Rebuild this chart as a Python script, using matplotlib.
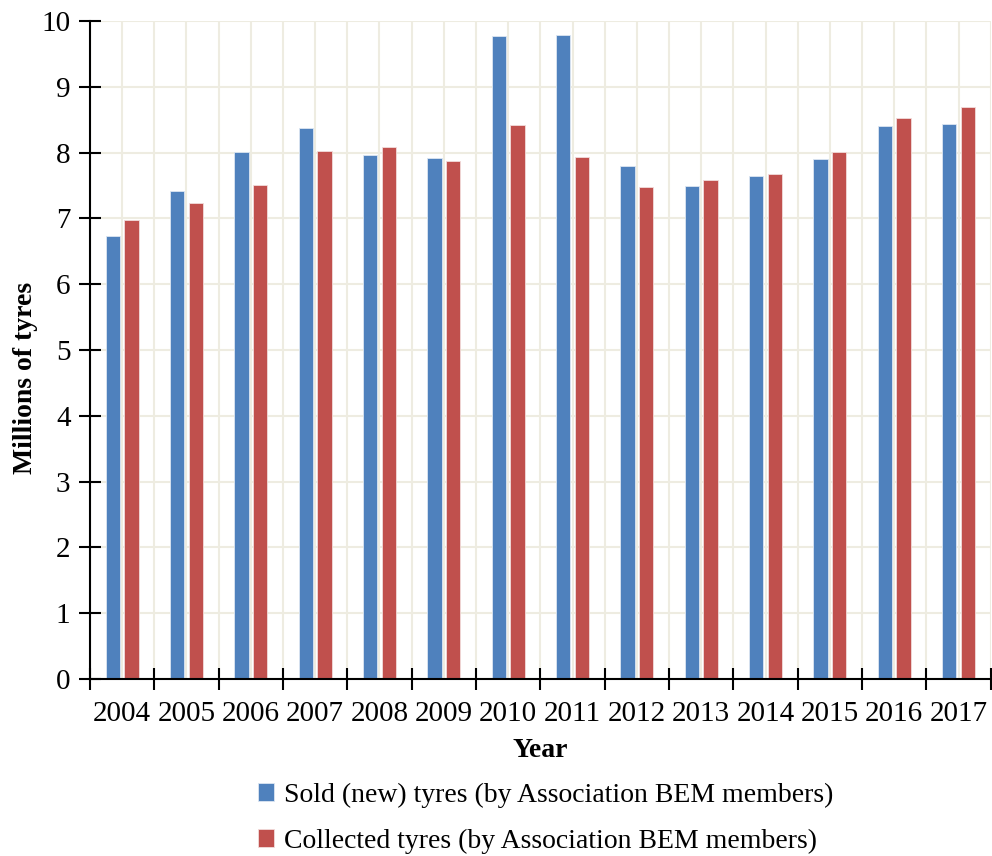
import matplotlib.pyplot as plt
import numpy as np

years = ['2004', '2005', '2006', '2007', '2008', '2009', '2010',
         '2011', '2012', '2013', '2014', '2015', '2016', '2017']
sold = [6.73, 7.41, 8.01, 8.37, 7.97, 7.92, 9.77,
        9.79, 7.79, 7.49, 7.64, 7.90, 8.41, 8.43]
collected = [6.97, 7.24, 7.50, 8.03, 8.09, 7.87, 8.42,
             7.93, 7.48, 7.58, 7.68, 8.01, 8.53, 8.70]

plt.rcParams['font.family'] = ['Liberation Serif', 'DejaVu Serif']

fig = plt.figure(figsize=(9.92, 8.56), dpi=100)
ax = fig.add_axes([0.0907, 0.2068, 0.908, 0.7687])

x = np.arange(len(years))
w = 0.225
ax.bar(x - 0.145, sold, w, color='#4F81BD', edgecolor='#DCE6F2', linewidth=0.6,
       label='Sold (new) tyres (by Association BEM members)', zorder=3)
ax.bar(x + 0.145, collected, w, color='#C0504D', edgecolor='#F2DCDB', linewidth=0.6,
       label='Collected tyres (by Association BEM members)', zorder=3)

ax.set_xlim(-0.5, len(years) - 0.5)
ax.set_ylim(0, 10)
ax.set_yticks(range(0, 11))

ax.set_xticks(x)
ax.set_xticklabels(years, fontsize=21)
ax.set_xticks(np.arange(-0.5, len(years), 1), minor=True)
ax.tick_params(axis='x', which='major', length=0, pad=16)
ax.tick_params(axis='x', which='minor', direction='inout', length=16, width=1.5)
ax.tick_params(axis='y', direction='inout', length=16, width=1.5, labelsize=21, pad=6)

# light grid: horizontal at each unit, vertical every half category
ax.grid(axis='y', color='#EEECE1', linewidth=1.5, zorder=0)
for gx in np.arange(-0.5, len(years), 0.5):
    ax.axvline(gx, color='#EEECE1', linewidth=1.5, zorder=0)

for s in ['top', 'right']:
    ax.spines[s].set_visible(False)
ax.spines['left'].set_linewidth(1.5)
ax.spines['bottom'].set_linewidth(1.5)
ax.spines['bottom'].set_zorder(4)

ax.set_ylabel('Millions of tyres', fontsize=20, fontweight='bold')
ax.yaxis.set_label_coords(-0.058, 0.457)
ax.set_xlabel('Year', fontsize=20, fontweight='bold', labelpad=8)

fig.legend(loc='upper center', bbox_to_anchor=(0.55, 0.105), ncol=1, frameon=False,
           fontsize=20, handlelength=0.6, handleheight=0.6, handletextpad=0.35,
           labelspacing=0.75, borderaxespad=0.2)

plt.savefig('out.png', dpi=100)
